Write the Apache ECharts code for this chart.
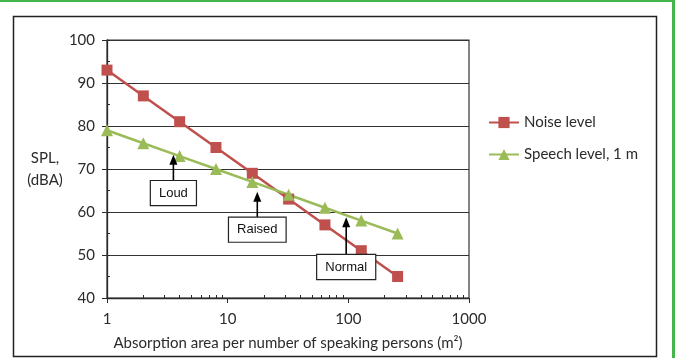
<!DOCTYPE html>
<html><head><meta charset="utf-8">
<script src="https://cdn.jsdelivr.net/npm/echarts@6/dist/echarts.min.js"></script>
<style>html,body{margin:0;padding:0;background:#fff}#c{width:675px;height:358px}</style>
</head><body><div id="c"></div>
<script>
// ---- data ----
const xValues = [1, 2, 4, 8, 16, 32, 64, 128, 256];
const noiseLevel = [93, 87, 81, 75, 69, 63, 57, 51, 45];
const speechLevel = [79, 76, 73, 70, 67, 64, 61, 58, 55];
const seriesNames = ['Noise level', 'Speech level, 1 m'];
const xMinorTicks = [2,3,4,5,6,7,8,9,20,30,40,50,60,70,80,90,200,300,400,500,600,700,800,900];
const yRange = [40, 100];
const xRange = [1, 1000];
const xAxisTitle = 'Absorption area per number of speaking persons (m\u00B2)';
const yAxisTitle = 'SPL,\n(dBA)';
// annotation: label, x position of arrow, y of arrow tip, y of box centre (data units)
const annotLabels = ['Loud', 'Raised', 'Normal'];
const annotX = [3.55, 17.6, 96];
const annotTipY = [73.3, 64.7, 58.8];
const annotBoxY = [64.4, 55.9, 47.2];

const chart = echarts.init(document.getElementById('c'), null, {renderer: 'canvas'});
const F = 'Lato';
const axisColor = '#2a2a2a';
const option = {
  animation: false,
  textStyle: {fontFamily: F},
  grid: {left: 107, top: 40, right: 206, bottom: 60, show: true, borderColor: '#333', borderWidth: 1.2},
  legend: {
    orient: 'vertical', left: 483, top: 110, itemWidth: 30, itemHeight: 14, itemGap: 17,
    textStyle: {fontSize: 15, color: '#2b2b2b', fontFamily: F},
    data: seriesNames
  },
  xAxis: [{
    type: 'log', logBase: 10, min: xRange[0], max: xRange[1],
    axisLine: {lineStyle: {color: axisColor, width: 1.3}},
    axisTick: {length: 5, lineStyle: {color: axisColor}},
    splitLine: {show: false},
    minorTick: {show: false},
    axisLabel: {fontSize: 15, color: '#2b2b2b', margin: 14, formatter: v => String(Math.round(v))},
    name: xAxisTitle, nameLocation: 'middle', nameGap: 38,
    nameTextStyle: {fontSize: 15, color: '#2b2b2b'}
  }, {
    type: 'log', logBase: 10, min: xRange[0], max: xRange[1], position: 'bottom',
    axisLine: {show: false}, axisLabel: {show: false}, splitLine: {show: false},
    axisTick: {inside: true, length: 3, customValues: xMinorTicks, lineStyle: {color: axisColor}}
  }],
  yAxis: [{
    type: 'value', min: yRange[0], max: yRange[1], interval: 10,
    axisLine: {show: true, lineStyle: {color: axisColor, width: 1.3}},
    axisTick: {show: true, length: 5, lineStyle: {color: axisColor}},
    splitLine: {lineStyle: {color: '#333', width: 1.2}},
    axisLabel: {fontSize: 15, color: '#2b2b2b', margin: 12},
    name: yAxisTitle, nameLocation: 'middle', nameRotate: 0, nameGap: 62,
    nameTextStyle: {fontSize: 15, color: '#2b2b2b', align: 'center', lineHeight: 22}
  }, {
    type: 'value', min: yRange[0], max: yRange[1], interval: 5, position: 'left',
    axisLine: {show: false}, axisLabel: {show: false}, splitLine: {show: false},
    axisTick: {show: true, inside: true, length: 3, lineStyle: {color: axisColor}}
  }],
  series: [{
    name: seriesNames[0], type: 'line', xAxisIndex: 0, yAxisIndex: 0,
    data: xValues.map((x, i) => [x, noiseLevel[i]]),
    symbol: 'rect', symbolSize: 11,
    itemStyle: {color: '#C0504D'}, lineStyle: {color: '#C0504D', width: 2.5}
  }, {
    name: seriesNames[1], type: 'line', xAxisIndex: 0, yAxisIndex: 0,
    data: xValues.map((x, i) => [x, speechLevel[i]]),
    symbol: 'triangle', symbolSize: 12,
    itemStyle: {color: '#9BBB59'}, lineStyle: {color: '#9BBB59', width: 2.5}
  }]
};
chart.setOption(option);

// frame + annotations
const g = [
  {type: 'rect', shape: {x: 13.5, y: 16.5, width: 643, height: 340}, style: {fill: 'none', stroke: '#222', lineWidth: 1.5}, z: -1},
  {type: 'rect', shape: {x: 0, y: 0, width: 675, height: 2}, style: {fill: '#44b549'}},
  {type: 'rect', shape: {x: 672, y: 0, width: 3, height: 358}, style: {fill: '#44b549'}}
];
annotLabels.forEach((lab, i) => {
  const tip = chart.convertToPixel({xAxisIndex: 0, yAxisIndex: 0}, [annotX[i], annotTipY[i]]);
  const box = chart.convertToPixel({xAxisIndex: 0, yAxisIndex: 0}, [annotX[i], annotBoxY[i]]);
  const boxTop = box[1] - 12.5;
  g.push({type: 'line', shape: {x1: tip[0], y1: boxTop, x2: tip[0], y2: tip[1] + 8}, style: {stroke: '#000', lineWidth: 1.6}, z: 20});
  g.push({type: 'polygon', shape: {points: [[tip[0], tip[1]], [tip[0] - 4, tip[1] + 10], [tip[0] + 4, tip[1] + 10]]}, style: {fill: '#000'}, z: 20});
  g.push({type: 'text', x: box[0], y: box[1], z: 20,
    style: {text: lab, font: '13px "Liberation Sans", Arial, sans-serif', fill: '#111', align: 'center', verticalAlign: 'middle',
      backgroundColor: '#fff', borderColor: '#222', borderWidth: 1.2, padding: [6, 8, 5, 8]}});
});
chart.setOption({graphic: g});
</script></body></html>
